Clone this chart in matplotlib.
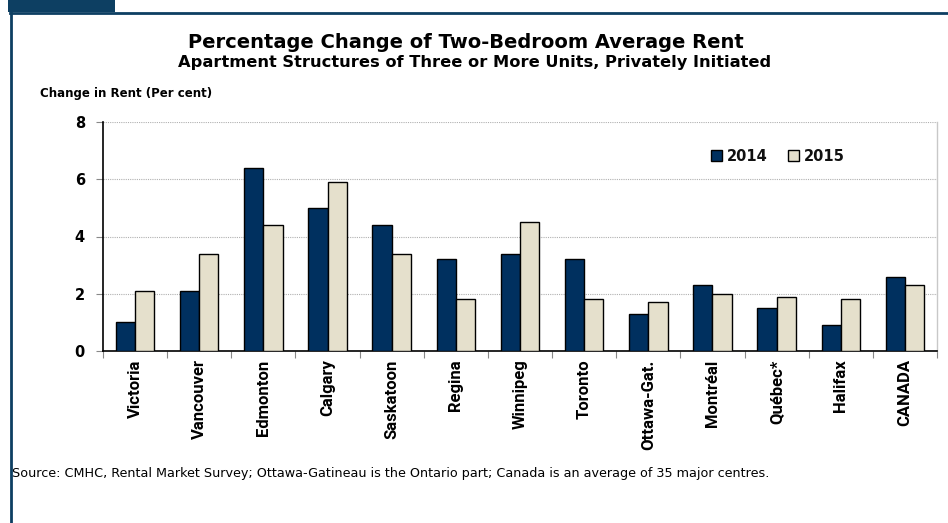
import matplotlib
matplotlib.use("Agg")
import matplotlib.pyplot as plt
import numpy as np
from matplotlib.patches import Rectangle
from matplotlib.lines import Line2D
from matplotlib.font_manager import FontProperties

categories = ["Victoria", "Vancouver", "Edmonton", "Calgary", "Saskatoon", "Regina",
              "Winnipeg", "Toronto", "Ottawa-Gat.", "Montréal", "Québec*", "Halifax", "CANADA"]
rent_2014 = [1.0, 2.1, 6.4, 5.0, 4.4, 3.2, 3.4, 3.2, 1.3, 2.3, 1.5, 0.9, 2.6]
rent_2015 = [2.1, 3.4, 4.4, 5.9, 3.4, 1.8, 4.5, 1.8, 1.7, 2.0, 1.9, 1.8, 2.3]
series_labels = ["2014", "2015"]
yticks = [0, 2, 4, 6, 8]

W, H = 948, 523
fig = plt.figure(figsize=(W / 100, H / 100), dpi=100)
fig.patch.set_facecolor("white")

navy = "#00305f"
beige = "#e5e0cc"
frame = "#0d3f62"

# Frame decorations
fig.add_artist(Rectangle((8 / W, 1 - 12 / H), (115 - 8) / W, 12 / H, transform=fig.transFigure,
                         facecolor=frame, edgecolor="none"))
fig.add_artist(Line2D([10 / W, 1], [1 - 13 / H, 1 - 13 / H], transform=fig.transFigure,
                      color=frame, lw=2))
fig.add_artist(Line2D([10.5 / W, 10.5 / W], [0, 1 - 13 / H], transform=fig.transFigure,
                      color=frame, lw=2))

left, right, top, bottom = 103, 937, 122, 351
ax = fig.add_axes([left / W, 1 - bottom / H, (right - left) / W, (bottom - top) / H])

x = np.arange(len(categories))
bw = 0.3
ax.bar(x - bw / 2, rent_2014, bw, color=navy, edgecolor="black", linewidth=1.0,
       label=series_labels[0], zorder=3)
ax.bar(x + bw / 2, rent_2015, bw, color=beige, edgecolor="black", linewidth=1.0,
       label=series_labels[1], zorder=3)

ax.set_xlim(-0.5, len(categories) - 0.5)
ax.set_ylim(0, 8)
ax.set_yticks(yticks)
ax.set_yticklabels([str(t) for t in yticks])
for t in ax.get_yticklabels():
    t.set_fontsize(10.5)
    t.set_fontweight("bold")
    t.set_family("DejaVu Sans")
ax.yaxis.grid(True, color="#b0b0b0", linestyle=(0, (1, 1)), linewidth=0.8, zorder=0)
ax.set_axisbelow(True)

xfont = FontProperties(family="Roboto", weight="bold", size=12)
ax.set_xticks(x)
ax.set_xticklabels(categories, rotation=90, va="top", fontproperties=xfont)
ax.tick_params(axis="x", length=0, pad=6)
ax.set_xticks(np.arange(len(categories) + 1) - 0.5, minor=True)
ax.tick_params(axis="x", which="minor", length=5, color="#888888", width=0.8)
ax.tick_params(axis="y", length=5, width=0.8, color="#888888", pad=8)

for s in ["left", "bottom"]:
    ax.spines[s].set_color("black")
    ax.spines[s].set_linewidth(1.2)
ax.spines["top"].set_visible(False)
ax.spines["right"].set_color("#c8c8c8")
ax.spines["right"].set_linewidth(1.0)

leg = ax.legend(loc="upper right", bbox_to_anchor=(0.905, 0.94), ncol=2, frameon=False,
                prop={"family": "DejaVu Sans", "weight": "bold", "size": 10.5},
                handlelength=0.8, handleheight=0.8, handletextpad=0.3, columnspacing=1.4)
for t in leg.get_texts():
    t.set_color("#111111")

fig.text(466 / W, 1 - 43 / H, "Percentage Change of Two-Bedroom Average Rent",
         ha="center", va="center", fontsize=14, fontweight="bold", family="DejaVu Sans")
fig.text(475 / W, 1 - 62 / H, "Apartment Structures of Three or More Units, Privately Initiated",
         ha="center", va="center", fontsize=11.7, fontweight="bold", family="DejaVu Sans")
fig.text(40 / W, 1 - 93 / H, "Change in Rent (Per cent)", ha="left", va="center",
         fontsize=8.5, fontweight="bold", family="DejaVu Sans")
fig.text(12 / W, 1 - 474 / H,
         "Source: CMHC, Rental Market Survey; Ottawa-Gatineau is the Ontario part; Canada is an average of 35 major centres.",
         ha="left", va="center", fontsize=9.2, family="DejaVu Sans")

fig.savefig("out.png", dpi=100)
